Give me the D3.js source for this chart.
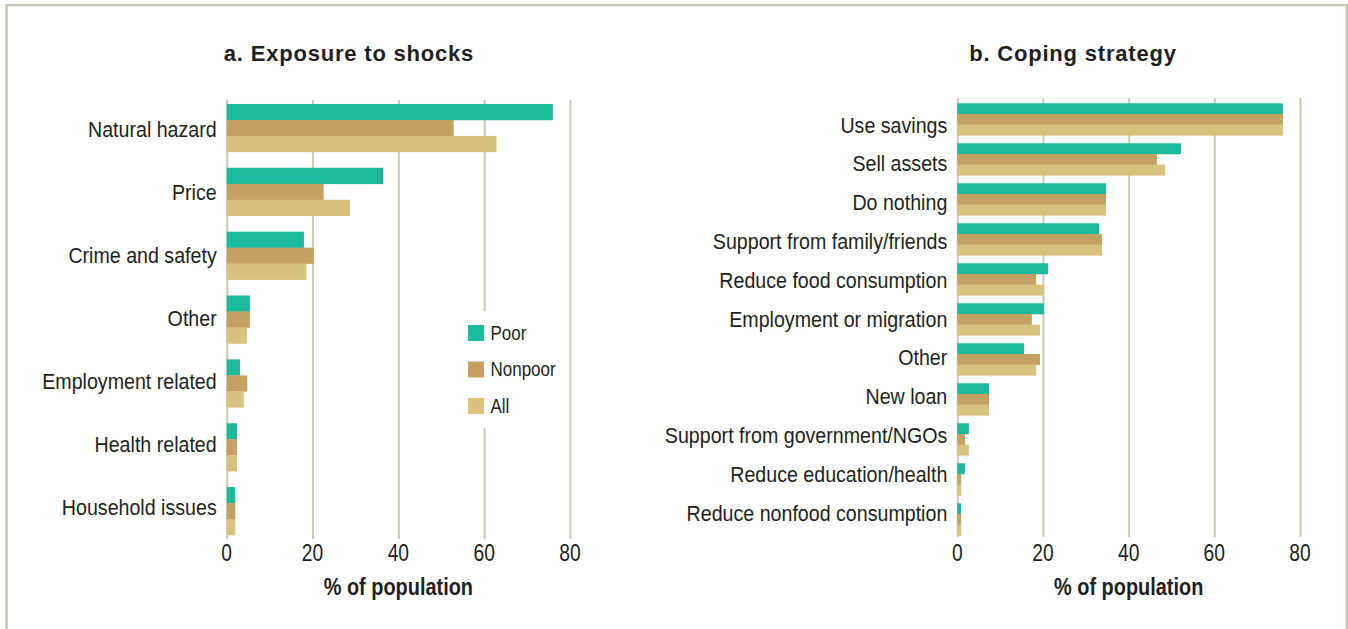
<!DOCTYPE html>
<html>
<head>
<meta charset="utf-8">
<script src="https://cdn.jsdelivr.net/npm/d3@7/dist/d3.min.js"></script>
<style>
  html, body { margin: 0; padding: 0; background: #fff; }
  svg { display: block; }
  .narrow { font-family: "Liberation Sans", Arial, Helvetica, sans-serif; }
</style>
</head>
<body>
<svg id="chart" width="1348" height="629"></svg>
<script>
// Panel a: share of population exposed to each shock
const shockCategories = ["Natural hazard", "Price", "Crime and safety", "Other",
  "Employment related", "Health related", "Household issues"];
const shockPoor    = [76.0, 36.5, 18.0, 5.4, 3.1, 2.4, 2.0];
const shockNonpoor = [52.9, 22.6, 20.3, 5.4, 4.8, 2.4, 2.0];
const shockAll     = [62.9, 28.7, 18.6, 4.7, 4.0, 2.4, 2.0];

// Panel b: coping strategies used
const copingCategories = ["Use savings", "Sell assets", "Do nothing", "Support from family/friends",
  "Reduce food consumption", "Employment or migration", "Other", "New loan",
  "Support from government/NGOs", "Reduce education/health", "Reduce nonfood consumption"];
const copingPoor    = [76.0, 52.2, 34.7, 33.1, 21.2, 20.2, 15.6, 7.4, 2.7, 1.8, 0.9];
const copingNonpoor = [76.0, 46.6, 34.7, 33.8, 18.4, 17.4, 19.3, 7.4, 1.8, 0.9, 0.9];
const copingAll     = [76.0, 48.5, 34.7, 33.8, 20.2, 19.3, 18.4, 7.4, 2.7, 0.9, 0.9];

const seriesNames = ["Poor", "Nonpoor", "All"];
const tickValues = [0, 20, 40, 60, 80];
const axisTitle = "% of population";

const colors = d3.scaleOrdinal().domain(seriesNames).range(["#1aba9b", "#c4a062", "#d8c27e"]);
const gridColor = "#c9c9b6";
const textColor = "#231f20";

const svg = d3.select("#chart");

// place a horizontally condensed text at (x, y)
function placeNarrow(sel, fx, fy, squeeze) {
  sel.attr("class", "narrow")
    .attr("transform", (d, i) => `translate(${fx(d, i)},${fy(d, i)}) scale(${squeeze},1)`);
}

// outer frame (open at the bottom)
svg.append("path")
  .attr("d", "M6.5,640 L6.5,5.3 L1346.8,5.3 L1346.8,640")
  .attr("fill", "none")
  .attr("stroke", gridColor)
  .attr("stroke-width", 2.6);

function drawPanel(opt) {
  const g = svg.append("g");
  const x = d3.scaleLinear().domain([0, 80]).range(opt.xRange);
  const y = d3.scaleBand().domain(opt.categories).range(opt.bandRange)
    .paddingInner(opt.padInner).paddingOuter(opt.padOuter);
  const sub = d3.scaleBand().domain(seriesNames).range([0, y.bandwidth()]);
  const labelY = d3.scalePoint().domain(opt.categories).range(opt.labelRange);

  // vertical gridlines via the axis generator
  const axis = d3.axisBottom(x).tickValues(tickValues).tickSize(-(opt.gridBottom - opt.gridTop)).tickFormat("");
  const ag = g.append("g").attr("transform", `translate(0,${opt.gridBottom})`).call(axis);
  ag.select(".domain").remove();
  ag.selectAll(".tick line").attr("stroke", gridColor).attr("stroke-width", 2);

  // tick labels
  g.append("g").selectAll("text").data(tickValues).join("text")
    .call(placeNarrow, d => x(d), () => 561, 0.82)
    .attr("text-anchor", "middle")
    .attr("font-size", 23.5).attr("fill", textColor)
    .text(d => d);

  // bars
  const rows = opt.categories.map((c, i) => ({
    cat: c,
    vals: seriesNames.map((s, k) => ({ s, v: opt.series[k][i] }))
  }));
  const grp = g.append("g").selectAll("g").data(rows).join("g")
    .attr("transform", d => `translate(0,${y(d.cat)})`);
  grp.selectAll("rect").data(d => d.vals).join("rect")
    .attr("x", x(0))
    .attr("y", d => sub(d.s))
    .attr("width", d => x(d.v) - x(0))
    .attr("height", sub.bandwidth() + 0.3)
    .attr("fill", d => colors(d.s));

  // category labels
  g.append("g").selectAll("text").data(opt.categories).join("text")
    .call(placeNarrow, () => x(0) - 10, d => labelY(d), 0.88)
    .attr("text-anchor", "end")
    .attr("font-size", 22.3).attr("fill", textColor)
    .text(d => d);

  // panel title
  g.append("text")
    .attr("x", opt.titleX).attr("y", 61)
    .attr("text-anchor", "middle")
    .attr("font-family", "'Liberation Sans', Arial, sans-serif")
    .attr("font-weight", "bold").attr("font-size", 22)
    .attr("letter-spacing", 0.8)
    .attr("fill", textColor)
    .text(opt.title);

  // axis title
  g.append("text")
    .call(placeNarrow, () => (x(0) + x(80)) / 2, () => 595, 0.83)
    .attr("text-anchor", "middle")
    .attr("font-weight", "bold").attr("font-size", 24)
    .attr("fill", textColor)
    .text(axisTitle);

  return { g, x, y };
}

const left = drawPanel({
  categories: shockCategories,
  series: [shockPoor, shockNonpoor, shockAll],
  xRange: [226.7, 570],
  bandRange: [99.5, 539.5],
  padInner: 0.25, padOuter: 0.07,
  gridTop: 100, gridBottom: 539,
  labelRange: [137, 515],
  title: "a. Exposure to shocks",
  titleX: 349
});

drawPanel({
  categories: copingCategories,
  series: [copingPoor, copingNonpoor, copingAll],
  xRange: [957.3, 1300],
  bandRange: [99.3, 539.3],
  padInner: 0.2, padOuter: 0.1,
  gridTop: 98, gridBottom: 537,
  labelRange: [132.5, 520.5],
  title: "b. Coping strategy",
  titleX: 1073
});

// legend in panel a, on a white backing that interrupts the gridline
const legend = left.g.append("g").attr("transform", "translate(468,325)");
legend.append("rect")
  .attr("x", -8).attr("y", -14).attr("width", 100).attr("height", 117)
  .attr("fill", "#fff");
const item = legend.selectAll("g.item").data(seriesNames).join("g")
  .attr("class", "item")
  .attr("transform", (d, i) => `translate(0,${i * 36.5})`);
item.append("rect")
  .attr("width", 16).attr("height", 16)
  .attr("fill", d => colors(d));
item.append("text")
  .call(placeNarrow, () => 22.5, () => 14.5, 0.85)
  .attr("font-size", 20).attr("fill", textColor)
  .text(d => d);
</script>
</body>
</html>
